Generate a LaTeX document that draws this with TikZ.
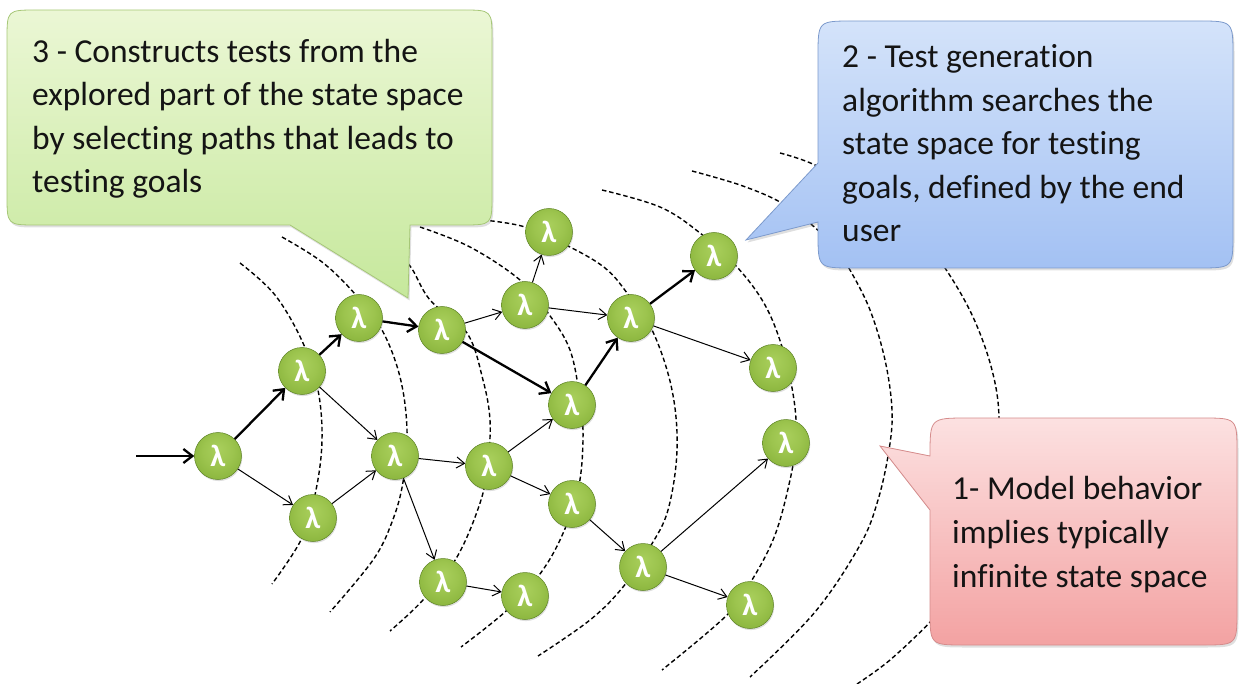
\documentclass[tikz,border=0pt]{standalone}
\usepackage{fontspec}
\setmainfont{Carlito}[Ligatures=NoCommon]
\newfontfamily\lamfont{Carlito}
\usetikzlibrary{arrows.meta,shadows}

\definecolor{gTop}{HTML}{EBF7D5}
\definecolor{gBot}{HTML}{C6E89C}
\definecolor{gLine}{HTML}{A6C777}
\definecolor{bTop}{HTML}{D4E3FA}
\definecolor{bBot}{HTML}{A3C1F3}
\definecolor{bLine}{HTML}{7C9ACC}
\definecolor{pTop}{HTML}{FCE1E1}
\definecolor{pBot}{HTML}{F3A2A2}
\definecolor{pLine}{HTML}{D58C8C}
\definecolor{nHi}{HTML}{A9CF5C}
\definecolor{nLt}{HTML}{9CC44E}
\definecolor{nMid}{HTML}{88B33B}
\definecolor{nEdge}{HTML}{678E29}
\definecolor{nRim}{HTML}{5C8224}
\definecolor{ink}{HTML}{141414}

\pgfdeclareradialshading{lamball}{\pgfpoint{0bp}{8bp}}{%
  color(0bp)=(nHi); color(16bp)=(nLt); color(32bp)=(nMid);
  color(46bp)=(nEdge); color(50bp)=(nEdge)}

\begin{document}
\begin{tikzpicture}[x=1pt,y=-1pt,
  lamnode/.style={circle, minimum size=47pt, inner sep=0pt, draw=nRim,
    line width=0.5pt, shading=lamball, text=white,
    font=\lamfont\bfseries\fontsize{31}{31}\selectfont,
    drop shadow={opacity=0.25,shadow xshift=0.8pt,shadow yshift=-1.6pt}},
  lightedge/.style={-{Straight Barb[length=8pt,width=11pt]}, line width=1pt},
  boldedge/.style={-{Straight Barb[length=9pt,width=14pt]}, line width=2.3pt},
  arcdash/.style={line width=1.4pt, dash pattern=on 4.5pt off 2.8pt},
  calltext/.style={anchor=base west, align=left, inner sep=0pt, text=ink,
    font=\fontsize{33.5}{43.6}\selectfont},
  callshadow/.style={drop shadow={opacity=0.25,shadow xshift=1.5pt,shadow yshift=-2.5pt}}
]
\useasboundingbox (0,0) rectangle (1239,684);

% dashed fronts of the explored state space
\draw[arcdash] plot[smooth,tension=0.6] coordinates {(240,263) (275,295) (303,343) (318,390) (322,440) (316,490) (302,538) (272,584)};
\draw[arcdash] plot[smooth,tension=0.6] coordinates {(282,237) (322,262) (355,294) (382,330) (400,377) (407,430) (403,482) (392,522) (373,560) (330,612)};
\draw[arcdash] plot[smooth,tension=0.6] coordinates {(350,236) (390,250) (410,266) (430,300) (467,333) (483,380) (490,420) (488,460) (481,500) (457,557) (423,600) (390,631)};
\draw[arcdash] plot[smooth,tension=0.6] coordinates {(420,227) (470,247) (520,280) (548,313) (570,350) (580,400) (583,440) (578,490) (560,540) (537,578) (505,612) (461,647)};
\draw[arcdash] plot[smooth,tension=0.6] coordinates {(483,220) (525,227) (570,247) (605,268) (627,293) (653,332) (672,390) (677,450) (668,510) (650,547) (623,587) (590,620) (538,656)};
\draw[arcdash] plot[smooth,tension=0.6] coordinates {(602,190) (660,207) (700,233) (737,267) (765,305) (783,350) (794,400) (796,440) (790,480) (775,535) (752,580) (727,615) (662,670)};
\draw[arcdash] plot[smooth,tension=0.6] coordinates {(692,171) (740,185) (780,202) (812,225) (835,248) (850,270) (870,310) (885,360) (892,410) (889,450) (878,500) (860,545) (815,612) (750,677)};
\draw[arcdash] plot[smooth,tension=0.6] coordinates {(780,153) (815,165) (870,195) (915,230) (945,268) (973,317) (992,370) (999,418) (995,480) (975,550) (950,595) (932,620) (890,660) (857,684)};

% states
\coordinate (in) at (136,456);
\node[lamnode] (A) at (218,456) {λ};
\node[lamnode] (B) at (302,371) {λ};
\node[lamnode] (C) at (313,518) {λ};
\node[lamnode] (D) at (359,318) {λ};
\node[lamnode] (E) at (395,456) {λ};
\node[lamnode] (F) at (442,330) {λ};
\node[lamnode] (G) at (443,582) {λ};
\node[lamnode] (H) at (489,466) {λ};
\node[lamnode] (I) at (525,596) {λ};
\node[lamnode] (J) at (549,232) {λ};
\node[lamnode] (K) at (525,305) {λ};
\node[lamnode] (L) at (572,405) {λ};
\node[lamnode] (M) at (572,504) {λ};
\node[lamnode] (N) at (631,318) {λ};
\node[lamnode] (O) at (643,567) {λ};
\node[lamnode] (P) at (714,256) {λ};
\node[lamnode] (Q) at (773,368) {λ};
\node[lamnode] (R) at (786,443) {λ};
\node[lamnode] (S) at (750,605) {λ};

% transitions
\draw[boldedge] (in) -- (A);
\draw[boldedge] (A) -- (B);
\draw[boldedge] (B) -- (D);
\draw[boldedge] (D) -- (F);
\draw[boldedge] (F) -- (L);
\draw[boldedge] (L) -- (N);
\draw[boldedge] (N) -- (P);
\draw[lightedge] (A) -- (C);
\draw[lightedge] (B) -- (E);
\draw[lightedge] (C) -- (E);
\draw[lightedge] (E) -- (H);
\draw[lightedge] (E) -- (G);
\draw[lightedge] (G) -- (I);
\draw[lightedge] (F) -- (K);
\draw[lightedge] (K) -- (J);
\draw[lightedge] (K) -- (N);
\draw[lightedge] (H) -- (L);
\draw[lightedge] (H) -- (M);
\draw[lightedge] (M) -- (O);
\draw[lightedge] (N) -- (Q);
\draw[lightedge] (O) -- (R);
\draw[lightedge] (O) -- (S);

% callout 3 (green)
\path[callshadow, draw=gLine, line width=0.8pt, top color=gTop, bottom color=gBot]
  (37,10) -- (462,10) .. controls (492,10) .. (492,40) -- (492,195)
  .. controls (492,225) .. (462,225) -- (410,225) -- (408,298) -- (290,225)
  -- (37,225) .. controls (7,225) .. (7,195) -- (7,40) .. controls (7,10) .. (37,10) -- cycle;
\node[calltext] (t3) at (32,193) {3 - Constructs tests from the\\explored part of the state space\\by selecting paths that leads to\\testing goals};

% callout 2 (blue)
\path[callshadow, draw=bLine, line width=0.8pt, top color=bTop, bottom color=bBot]
  (853,21) -- (1198,21) .. controls (1233,21) .. (1233,56) -- (1233,233)
  .. controls (1233,268) .. (1198,268) -- (853,268) .. controls (818,268) .. (818,233)
  -- (818,222) -- (746,240) -- (818,163) -- (818,56) .. controls (818,21) .. (853,21) -- cycle;
\node[calltext] (t2) at (842,242) {2 - Test generation\\algorithm searches the\\state space for testing\\goals, defined by the end\\user};

% callout 1 (red)
\path[callshadow, draw=pLine, line width=0.8pt, top color=pTop, bottom color=pBot]
  (968,418) -- (1202,418) .. controls (1237,418) .. (1237,453) -- (1237,610)
  .. controls (1237,645) .. (1202,645) -- (965,645) .. controls (930,645) .. (930,610)
  -- (930,510) -- (880,446) -- (930,456) .. controls (930,418) .. (968,418) -- cycle;
\node[calltext] (t1) at (952,587) {1- Model behavior\\implies typically\\infinite state space};
\end{tikzpicture}
\end{document}
